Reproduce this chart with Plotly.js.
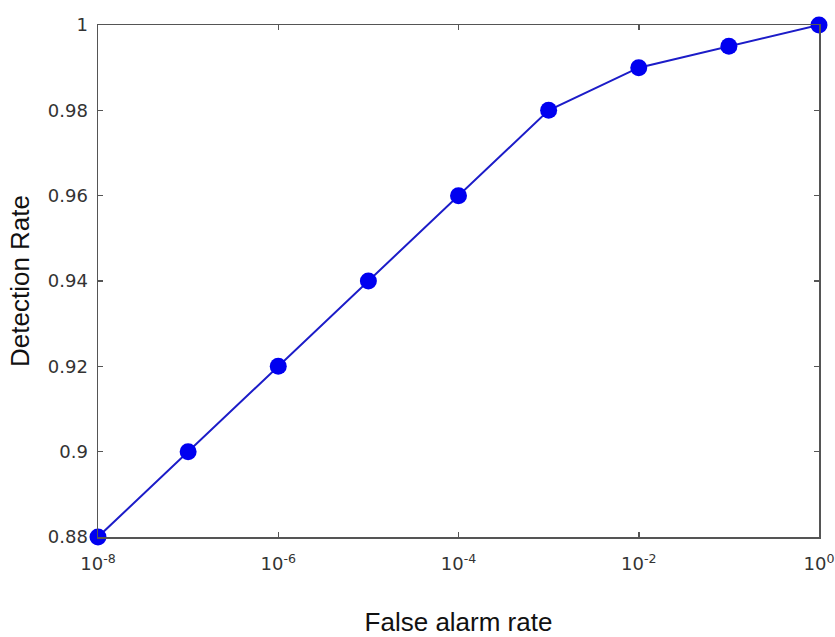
<!DOCTYPE html>
<html>
<head>
<meta charset="utf-8">
<script src="https://cdn.plot.ly/plotly-3.0.1.min.js"></script>
<style>html,body{margin:0;padding:0;background:#fff;}#chart{width:835px;height:637px;}</style>
</head>
<body>
<div id="chart"></div>
<script>
const falseAlarmRate = [1e-8, 1e-7, 1e-6, 1e-5, 1e-4, 1e-3, 1e-2, 1e-1, 1e0];
const detectionRate = [0.88, 0.90, 0.92, 0.94, 0.96, 0.98, 0.99, 0.995, 1.0];
const xTickVals = [1e-8, 1e-6, 1e-4, 1e-2, 1e0];
const xTickText = ["10<sup>-8</sup>", "10<sup>-6</sup>", "10<sup>-4</sup>", "10<sup>-2</sup>", "10<sup>0</sup>"];
const yTickVals = [0.88, 0.90, 0.92, 0.94, 0.96, 0.98, 1.0];
const yTickText = ["0.88", "0.9", "0.92", "0.94", "0.96", "0.98", "1"];
const xTitle = "False alarm rate";
const yTitle = "Detection Rate";

const trace = {
  x: falseAlarmRate,
  y: detectionRate,
  type: 'scatter',
  mode: 'lines+markers',
  line: {color: '#1c1cc8', width: 2},
  marker: {color: '#0000f0', size: 17},
  cliponaxis: false,
  hoverinfo: 'x+y'
};

const tickFont = {family: 'DejaVu Sans, Arial, sans-serif', size: 18, color: '#333'};
const titleFont = {family: 'Liberation Sans, Arial, sans-serif', size: 26, color: '#111'};

const axisCommon = {
  showgrid: false,
  zeroline: false,
  showline: true,
  linecolor: '#555',
  linewidth: 1.5,
  mirror: 'ticks',
  ticks: 'inside',
  ticklen: 5,
  tickwidth: 1.5,
  tickcolor: '#555',
  tickfont: tickFont
};

const layout = {
  width: 835,
  height: 637,
  margin: {l: 98, r: 16, t: 25, b: 100},
  paper_bgcolor: '#fff',
  plot_bgcolor: '#fff',
  showlegend: false,
  xaxis: Object.assign({}, axisCommon, {
    type: 'log',
    range: [-8, 0],
    tickmode: 'array',
    tickvals: xTickVals,
    ticktext: xTickText,
    ticklabelstandoff: 10,
    title: {text: xTitle, font: titleFont, standoff: 42}
  }),
  yaxis: Object.assign({}, axisCommon, {
    range: [0.88, 1.0],
    tickmode: 'array',
    tickvals: yTickVals,
    ticktext: yTickText,
    ticklabelstandoff: 5,
    title: {text: yTitle, font: titleFont, standoff: 10}
  })
};

Plotly.newPlot('chart', [trace], layout, {displayModeBar: false, staticPlot: true});
</script>
</body>
</html>
